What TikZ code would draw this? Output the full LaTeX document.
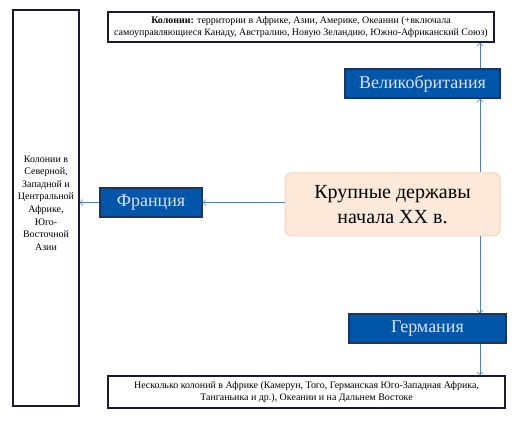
\documentclass[tikz,border=0pt]{standalone}
\usepackage{fontspec}
\setmainfont{Liberation Serif}
\newfontfamily\boxfont{Liberation Serif}
\usetikzlibrary{arrows.meta}
\definecolor{powerblue}{HTML}{0056A8}
\definecolor{powerline}{HTML}{1B3563}
\definecolor{peach}{HTML}{FDE9D9}
\definecolor{peachline}{HTML}{F9D3B5}
\definecolor{linkblue}{HTML}{4F81BD}
\definecolor{colline}{HTML}{1A1A33}

\begin{document}
\begin{tikzpicture}[x=1pt,y=-1pt,
  colfont/.style={align=center,inner sep=0pt,font=\boxfont\fontsize{9.95}{12.6}\selectfont},
  colbox/.style={colfont,draw=colline,line width=1.2pt,fill=white},
  powerbox/.style={draw=powerline,line width=1.2pt,fill=powerblue,text=white!88!blue,
    inner sep=0pt,minimum height=29,font=\boxfont\fontsize{18}{20}\selectfont},
  mainbox/.style={draw=peachline,line width=1pt,fill=peach,rounded corners=6pt,align=center,
    inner sep=0pt,font=\boxfont\fontsize{20}{25}\selectfont},
  link/.style={linkblue,line width=0.6pt,-{Straight Barb[length=3pt,width=6pt]}}]
  \useasboundingbox (0,0) rectangle (515,422);
  % ---------- the colonies ----------
  \node[colbox,minimum width=66,minimum height=396] (fr col) at (46,208) {};
  \node[colfont] (fr col text) at ([yshift=5pt]fr col.center)
    {Колонии в\\ Северной,\\ Западной и\\ Центральной\\ Африке,\\ Юго-\\ Восточной\\ Азии};
  \node[colbox,minimum width=386,minimum height=30] (gb col) at (301,27)
    {\textbf{Колонии:} территории в Африке, Азии, Америке, Океании (+включала\\
     самоуправляющиеся Канаду, Австралию, Новую Зеландию, Южно-Африканский Союз)};
  \node[colbox,minimum width=397,minimum height=32] (ge col) at (306.5,392)
    {Несколько колоний в Африке (Камерун, Того, Германская Юго-Западная Африка,\\
     Танганьика и др.), Океании и на Дальнем Востоке};
  % ---------- the powers ----------
  \node[mainbox,minimum width=215,minimum height=63] (main) at (392.5,204.5)
    {Крупные державы\\ начала XX в.};
  \node[powerbox,minimum width=155] (gb) at (422.5,83.5) {Великобритания};
  \node[powerbox,minimum width=102] (fr) at (151,202.5) {Франция};
  \node[powerbox,minimum width=157] (ge) at (427.5,328.5) {Германия};
  % ---------- links ----------
  \coordinate (trunk) at (480,0);
  \draw[link] (main.west |- fr.east) -- (fr.east);
  \draw[link] (fr.west) -- (fr.west -| fr col.east);
  \draw[link] (main.north -| trunk) -- (gb.south -| trunk);
  \draw[link] (gb.north -| trunk) -- (gb col.south -| trunk);
  \draw[link] (main.south -| trunk) -- (ge.north -| trunk);
  \draw[link] (ge.south -| trunk) -- (ge col.north -| trunk);
\end{tikzpicture}
\end{document}
